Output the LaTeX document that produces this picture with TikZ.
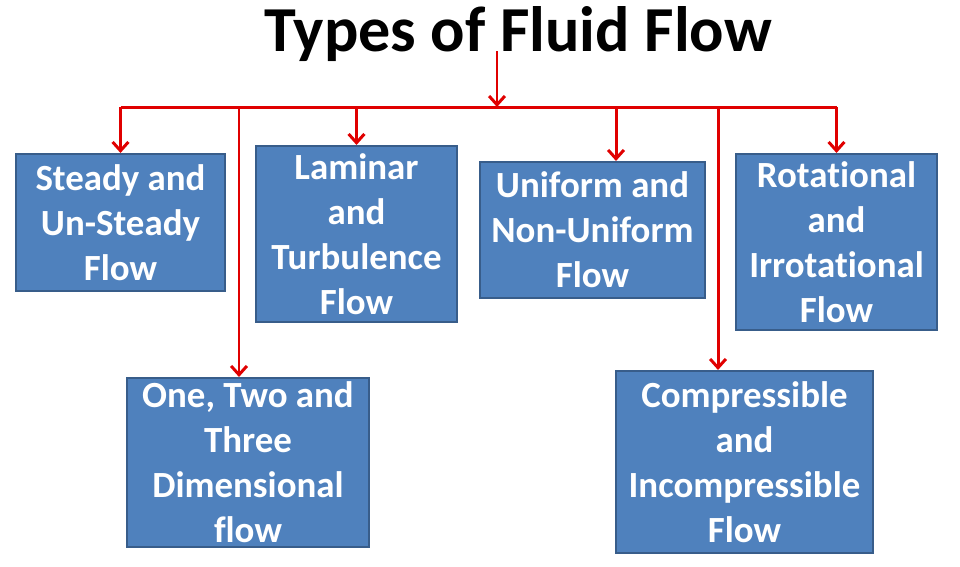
\documentclass[tikz,border=0pt]{standalone}
\usepackage{fontspec}
\setmainfont{Carlito}[Ligatures=NoCommon]
\usetikzlibrary{arrows.meta}
\definecolor{boxblue}{HTML}{4F81BD}
\definecolor{boxline}{HTML}{385D8A}
\definecolor{flowred}{HTML}{E00000}
\begin{document}
\begin{tikzpicture}[x=0.02cm, y=-0.02cm,
    box/.style={draw=boxline, line width=1.2pt, fill=boxblue, text=white, align=center,
        inner sep=0pt, font=\fontsize{21}{25.6}\selectfont\bfseries},
    flow/.style={draw=flowred, line width=1.7pt, -{Straight Barb[length=5pt, width=9pt]}}]
    \useasboundingbox (0,0) rectangle (960,566);

    % title and bus line
    \node[anchor=base, inner sep=0pt, font=\fontsize{36.5}{40}\selectfont\bfseries] (title) at (518,51) {Types of Fluid Flow};
    \coordinate (bus) at (497,107);

    % boxes
    \node[box, minimum width=4.18cm, minimum height=2.74cm] (steady) at (120.5,222.5) {Steady and\\Un-Steady\\Flow};
    \node[box, minimum width=4.02cm, minimum height=3.52cm] (laminar) at (356.5,234) {Laminar\\and\\Turbulence\\Flow};
    \node[box, minimum width=4.5cm, minimum height=2.72cm] (uniform) at (592.5,230) {Uniform and\\Non-Uniform\\Flow};
    \node[box, minimum width=4.02cm, minimum height=3.52cm] (rot) at (836.5,242) {Rotational\\and\\Irrotational\\Flow};
    \node[box, minimum width=4.84cm, minimum height=3.38cm] (dim) at (248,462.5) {One, Two and\\Three\\Dimensional\\flow};
    \node[box, minimum width=5.14cm, minimum height=3.64cm] (comp) at (744.5,462) {Compressible\\and\\Incompressible\\Flow};

    % branch points on the bus
    \coordinate (bdim) at (239,107);
    \coordinate (buni) at (616,107);
    \coordinate (bcomp) at (718,107);

    \draw[flow] (title.base -| bus) -- (bus);
    \draw[draw=flowred, line width=1.7pt] (steady.north |- bus) -- (rot.north |- bus);
    \draw[flow] (steady.north |- bus) -- (steady.north);
    \draw[flow] (laminar.north |- bus) -- (laminar.north);
    \draw[flow] (rot.north |- bus) -- (rot.north);
    \draw[flow] (buni) -- (buni |- uniform.north);
    \draw[flow] (bdim) -- (bdim |- dim.north);
    \draw[flow] (bcomp) -- (bcomp |- comp.north);
\end{tikzpicture}
\end{document}
